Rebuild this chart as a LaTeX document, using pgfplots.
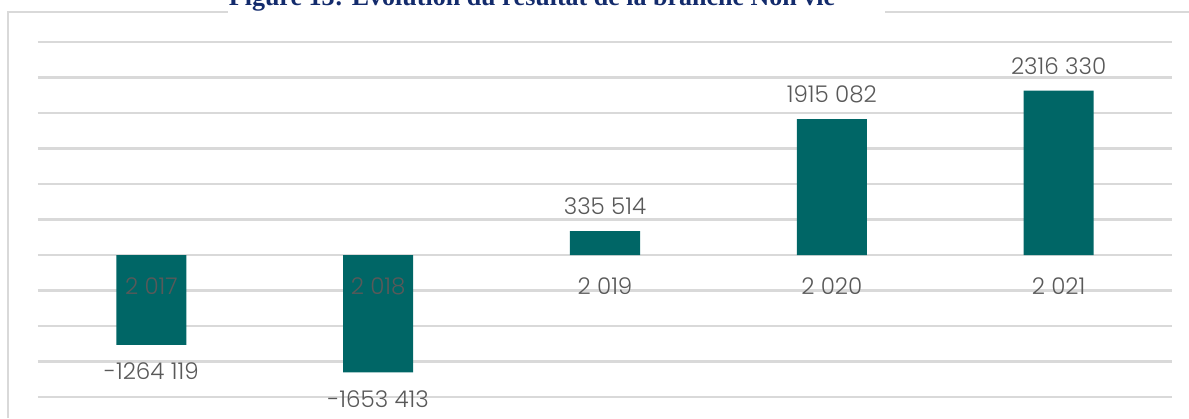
\documentclass[border=0pt]{standalone}
\usepackage{pgfplots}
\pgfplotsset{compat=1.18}
\usepackage{pgfplotstable}
\usepackage{fontspec}
\setmainfont{Poppins Light}
\newfontfamily\titlefont{Liberation Serif}
\definecolor{barc}{HTML}{006666}
\definecolor{txt}{HTML}{595959}
\definecolor{gridc}{HTML}{D9D9D9}
\definecolor{titlec}{HTML}{132B6C}

\pgfplotstableread[col sep=comma]{
x,y,label
2,335514,335 514
3,1915082,1915 082
4,2316330,2316 330
}\posdata
\pgfplotstableread[col sep=comma]{
x,y,label
0,-1264119,-1264 119
1,-1653413,-1653 413
}\negdata
\pgfplotstableread[col sep=comma]{
x,y,label
0,0,2 017
1,0,2 018
2,0,2 019
3,0,2 020
4,0,2 021
}\yeardata

\begin{document}
\begin{tikzpicture}
\begin{axis}[
  at={(19pt,10.5pt)}, anchor=south west,
  scale only axis, width=567pt, height=177.5pt,
  xmin=-0.5, xmax=4.5, ymin=-2000000, ymax=3000000,
  ytick={-2000000,-1500000,-1000000,-500000,0,500000,1000000,1500000,2000000,2500000,3000000},
  yticklabels={}, xtick=\empty,
  ymajorgrids, grid style={draw=gridc, line width=1.1pt},
  axis line style={draw=none}, major tick length=0pt,
  scaled y ticks=false,
  font=\fontsize{11.5}{13}\selectfont,
  clip=false,
]
\addplot[ybar, bar width=35pt, bar shift=0pt, fill=barc, draw=none,
  nodes near coords, point meta=explicit symbolic,
  every node near coord/.style={anchor=south, inner sep=0pt, yshift=8pt, text=txt}]
  table[x=x,y=y,meta=label]{\posdata};
\addplot[ybar, bar width=35pt, bar shift=0pt, fill=barc, draw=none,
  nodes near coords, point meta=explicit symbolic,
  every node near coord/.style={anchor=north, inner sep=0pt, yshift=-9pt, text=txt}]
  table[x=x,y=y,meta=label]{\negdata};
\addplot[draw=none, mark=none,
  nodes near coords, point meta=explicit symbolic,
  every node near coord/.style={anchor=center, inner sep=0pt, yshift=-15.5pt, text=txt}]
  table[x=x,y=y,meta=label]{\yeardata};
\end{axis}
\draw[gridc, line width=0.75pt] (4pt,0pt) -- (4pt,203pt) -- (114pt,203pt);
\draw[gridc, line width=0.75pt] (442.5pt,203pt) -- (600pt,203pt);
\node[anchor=base, inner sep=0pt, font=\titlefont\bfseries\fontsize{13}{15}\selectfont, text=titlec] at (266pt,206pt) {Figure 13: Évolution du résultat de la branche Non vie};
\pgfresetboundingbox
\path[use as bounding box] (0pt,0pt) rectangle (594.5pt,209pt);
\end{tikzpicture}
\end{document}
